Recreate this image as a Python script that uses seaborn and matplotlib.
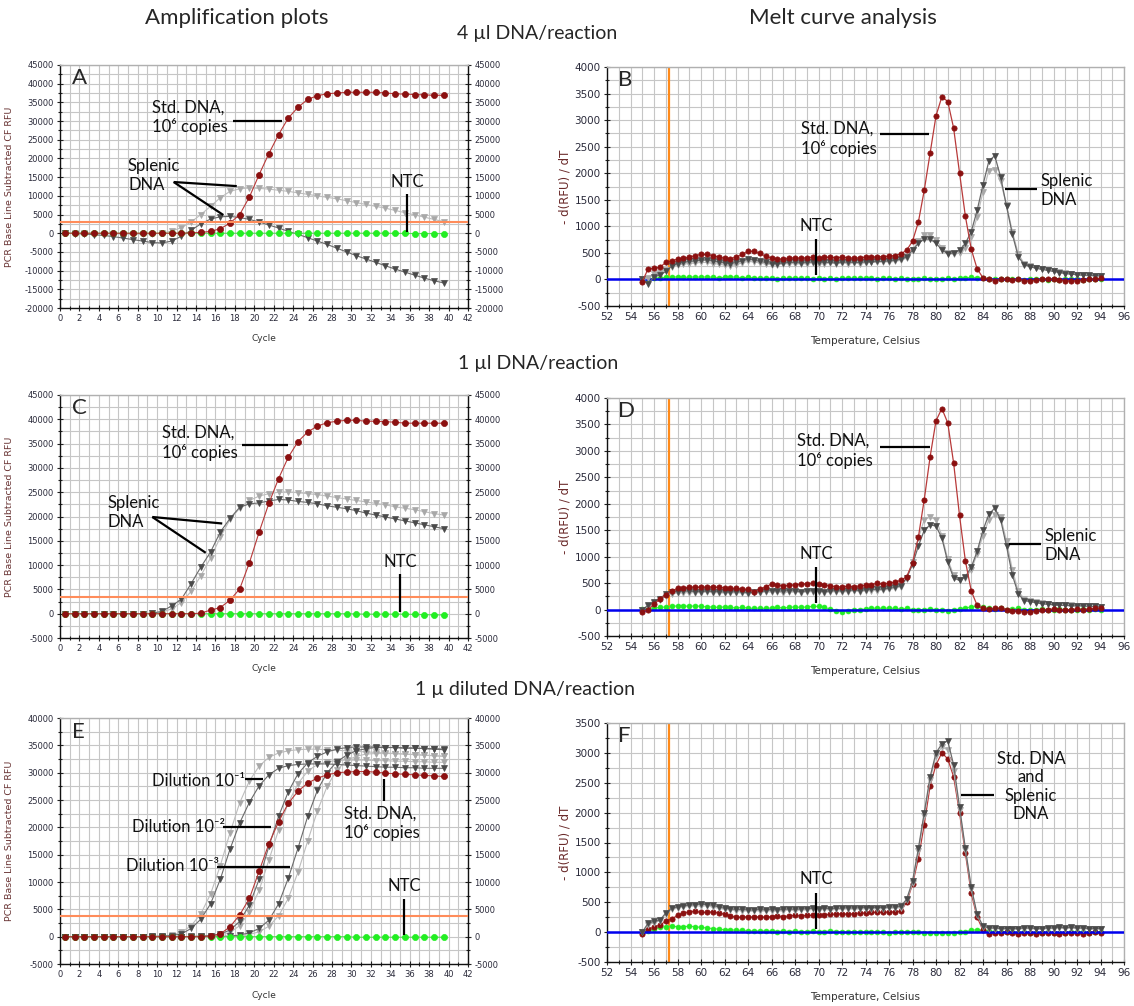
import numpy as np
import pandas as pd
import matplotlib
matplotlib.use("Agg")
import matplotlib.pyplot as plt
import matplotlib.ticker as tck
import seaborn as sns

# ---- amplification data (RFU per cycle) ----
cycle = np.arange(1, 41)

a_std = [0, 0, 0, 0, 0, 0, 0, 0, 0, 0,
         0, 0, 0, 100, 200, 500, 1200, 2700, 5000, 9700,
         15700, 21300, 26400, 30800, 33700, 35800, 36800, 37300, 37500, 37700,
         37700, 37700, 37700, 37500, 37300, 37200, 37100, 37000, 36900, 36900]
a_spl1 = [0, -100, -200, -400, -600, -900, -1300, -1700, -2100, -2500,
          -2600, -2100, -800, 800, 2500, 3800, 4400, 4500, 4200, 3700,
          3000, 2200, 1400, 500, -300, -1200, -2100, -3000, -4000, -5000,
          -6000, -6900, -7800, -8700, -9600, -10400, -11200, -12000, -12700, -13300]
a_spl2 = [0, 0, -50, -100, -150, -200, -250, -300, -300, -200,
          0, 600, 1500, 3000, 5000, 7200, 9500, 11200, 11900, 12100,
          12000, 11800, 11500, 11200, 10800, 10400, 10000, 9600, 9200, 8700,
          8200, 7700, 7200, 6700, 6100, 5500, 4900, 4300, 3700, 3100]
a_ntc = [0] * 34 + [-50, -50, -100, -100, -100, -100]

c_std = [0, 0, 0, 0, 0, 0, 0, 0, 0, 0,
         0, 0, 0, 0, 100, 750, 1250, 2800, 5100, 10500,
         16800, 22700, 27800, 32200, 35400, 37400, 38600, 39300, 39600, 39800,
         39800, 39600, 39600, 39500, 39400, 39200, 39200, 39200, 39200, 39200]
c_spl1 = [0, 0, 0, 0, 0, 0, 0, 0, 0, 100,
          500, 1600, 3000, 6200, 9600, 12700, 16800, 19600, 21900, 22600,
          22800, 23200, 23500, 23400, 23100, 22900, 22600, 22200, 21900, 21600,
          21200, 20700, 20300, 19900, 19500, 19100, 18700, 18300, 17900, 17500]
c_spl2 = [0, 0, 0, 0, 0, 0, 0, 0, 0, 50,
          300, 1000, 2300, 4600, 7800, 11500, 15700, 19400, 21700, 23300,
          24200, 24700, 25000, 25100, 24900, 24700, 24500, 24200, 23900, 23600,
          23300, 23000, 22700, 22400, 22000, 21700, 21400, 21000, 20600, 20300]
c_ntc = [0] * 30 + [-50, -100, -100, -100, -100, -100, -150, -200, -250, -250]

e_std = [0, 0, 0, 0, 0, 0, 0, 0, 0, 0,
         0, 0, 0, 0, 0, 100, 500, 1800, 4000, 7000,
         12000, 17000, 21000, 24400, 26600, 28100, 29000, 29600, 30000, 30100,
         30200, 30200, 30100, 29900, 29800, 29700, 29600, 29500, 29400, 29300]
e_d1a = [0, 0, 0, 0, 0, 0, 0, 0, 0, 50,
         100, 200, 500, 1500, 3200, 6000, 10500, 16000, 20800, 24600,
         27600, 29600, 30800, 31300, 31500, 31600, 31600, 31600, 31500, 31400,
         31300, 31200, 31100, 31000, 31000, 30900, 30900, 30800, 30800, 30800]
e_d1b = [0, 0, 0, 0, 0, 0, 0, 0, 0, 50,
         100, 300, 800, 2000, 4200, 7800, 13000, 19000, 24500, 28500,
         31200, 32800, 33600, 34000, 34200, 34300, 34300, 34200, 34100, 34000,
         33900, 33800, 33700, 33600, 33500, 33400, 33300, 33200, 33100, 33000]
e_d2a = [0, 0, 0, 0, 0, 0, 0, 0, 0, 0,
         0, 0, 0, 50, 100, 200, 500, 1200, 2800, 5800,
         10500, 16500, 22000, 26500, 29800, 31800, 33000, 33800, 34300, 34600,
         34700, 34700, 34700, 34600, 34600, 34500, 34500, 34400, 34300, 34200]
e_d2b = [0, 0, 0, 0, 0, 0, 0, 0, 0, 0,
         0, 0, 0, 0, 50, 100, 300, 800, 2000, 4500,
         8500, 14000, 19500, 24500, 28000, 30300, 31500, 32000, 32200, 32300,
         32300, 32300, 32200, 32200, 32100, 32100, 32000, 32000, 31900, 31900]
e_d3a = [0, 0, 0, 0, 0, 0, 0, 0, 0, 0,
         0, 0, 0, 0, 0, 0, 50, 100, 300, 700,
         1500, 3000, 6000, 10700, 16200, 22000, 26800, 30000, 32000, 33200,
         34000, 34400, 34600, 34600, 34600, 34500, 34500, 34400, 34400, 34300]
e_d3b = [0, 0, 0, 0, 0, 0, 0, 0, 0, 0,
         0, 0, 0, 0, 0, 0, 0, 50, 100, 400,
         900, 1900, 3800, 7000, 11800, 17500, 23000, 27500, 30500, 32200,
         33000, 33400, 33500, 33500, 33500, 33400, 33300, 33200, 33100, 33000]
e_ntc = [0] * 30 + [-100] * 10

thresholds = {"A": 3100, "C": 3400, "E": 3800}

# ---- melt curve data (-dRFU/dT), 55.0 to 94.0 C in 0.5 steps ----
temp = np.arange(55.0, 94.01, 0.5)

b_std = [-40, 200, 210, 230, 320, 350, 380, 400, 420, 450,
         470, 470, 450, 420, 400, 390, 420, 470, 530, 530,
         490, 440, 400, 380, 390, 400, 410, 400, 410, 420,
         410, 420, 420, 410, 420, 410, 400, 410, 420, 420,
         430, 430, 440, 450, 480, 550, 720, 1080, 1680, 2380,
         3080, 3440, 3350, 2850, 2010, 1190, 570, 200, 30, 10,
         -20, 0, 10, -10, 0, -20, -30, -10, 0, 10,
         0, -10, -20, -30, -20, -10, 0, 10, 20]
b_spl1 = [0, -80, 50, 80, 150, 250, 300, 320, 340, 350,
          360, 370, 350, 330, 310, 300, 320, 350, 380, 370,
          340, 320, 300, 300, 310, 320, 320, 310, 320, 330,
          330, 320, 320, 310, 320, 330, 320, 320, 330, 330,
          340, 340, 350, 360, 380, 420, 550, 680, 760, 760,
          680, 560, 480, 500, 550, 680, 900, 1300, 1780, 2230,
          2330, 1930, 1380, 850, 430, 280, 240, 210, 190, 170,
          150, 130, 110, 100, 90, 80, 80, 70, 70]
b_spl2 = [0, 20, 100, 120, 180, 240, 270, 290, 300, 310,
          320, 320, 300, 290, 270, 260, 280, 310, 340, 330,
          310, 290, 280, 280, 290, 300, 300, 290, 300, 310,
          300, 300, 310, 300, 310, 300, 310, 300, 310, 320,
          320, 330, 330, 340, 360, 400, 560, 720, 830, 840,
          740, 600, 500, 470, 500, 600, 800, 1180, 1650, 2050,
          2070, 1850, 1400, 900, 480, 300, 250, 220, 200, 180,
          160, 140, 120, 100, 90, 80, 70, 70, 60]
b_ntc = [0, 10, 20, 30, 40, 40, 50, 40, 40, 50,
         40, 50, 40, 30, 40, 50, 40, 30, 40, 30,
         20, 30, 20, 10, 20, 20, 30, 20, 20, 10,
         20, 10, 20, 10, 20, 30, 20, 20, 30, 20,
         10, 20, 20, 10, 20, 10, 0, 10, 20, 10,
         0, 10, 20, 10, 20, 30, 40, 30, 20, 10,
         0, 10, 0, 10, 0, -10, 0, 10, 0, -10,
         0, -10, 0, 10, 0, -10, 0, 10, 0]

d_std = [-40, 0, 100, 200, 280, 350, 400, 410, 420, 430,
         420, 430, 430, 420, 410, 400, 400, 390, 380, 340,
         380, 430, 480, 470, 450, 460, 470, 480, 490, 500,
         490, 470, 450, 430, 430, 440, 430, 450, 460, 470,
         500, 480, 500, 520, 550, 620, 880, 1370, 2080, 2890,
         3570, 3800, 3530, 2770, 1780, 920, 350, 80, 20, 10,
         20, 30, 0, -20, -30, -40, -50, -20, -10, 0,
         10, 0, -10, 0, 10, 0, 10, 20, 30]
d_spl1 = [0, 80, 150, 200, 300, 330, 340, 350, 350, 340,
          340, 350, 340, 340, 330, 330, 340, 330, 320, 330,
          340, 350, 360, 350, 350, 360, 350, 340, 350, 360,
          350, 340, 350, 360, 350, 360, 370, 360, 370, 380,
          380, 390, 400, 420, 450, 600, 850, 1200, 1500, 1600,
          1580, 1350, 900, 600, 550, 620, 800, 1100, 1500, 1800,
          1920, 1700, 1200, 650, 300, 170, 150, 130, 110, 100,
          90, 80, 80, 70, 70, 70, 60, 60, 50]
d_spl2 = [0, 60, 120, 180, 260, 300, 310, 320, 320, 320,
          320, 330, 320, 320, 310, 310, 320, 310, 300, 310,
          320, 330, 330, 330, 320, 330, 330, 320, 330, 340,
          330, 320, 330, 340, 330, 340, 350, 340, 350, 360,
          360, 370, 380, 400, 430, 580, 900, 1350, 1700, 1750,
          1700, 1400, 950, 650, 560, 600, 750, 1050, 1400, 1700,
          1780, 1750, 1300, 750, 350, 200, 170, 140, 120, 100,
          90, 90, 80, 80, 70, 70, 60, 60, 50]
d_ntc = [10, 20, 30, 40, 50, 60, 70, 70, 60, 70,
         60, 50, 50, 40, 50, 40, 30, 40, 30, 20,
         30, 20, 30, 40, 30, 40, 50, 40, 50, 60,
         60, 40, 10, -20, -40, -20, -10, 0, 10, 20,
         30, 20, 30, 20, 10, 20, 0, -10, 0, 10,
         0, -10, -20, -10, 10, 30, 50, 60, 40, 20,
         10, 20, 0, 10, 20, 0, -10, 0, 10, 0,
         0, 10, 0, -10, 0, 10, 0, 10, 0]

f_std = [-30, 50, 80, 120, 180, 220, 280, 320, 340, 350,
         330, 330, 340, 320, 300, 270, 250, 250, 260, 250,
         260, 250, 260, 270, 260, 270, 280, 270, 280, 280,
         280, 290, 300, 300, 310, 300, 310, 320, 320, 330,
         330, 330, 340, 340, 350, 500, 800, 1230, 1800, 2450,
         2800, 3000, 2900, 2600, 2000, 1320, 650, 250, 30, -30,
         -20, -10, 0, -20, -30, -10, -20, -30, -20, -10,
         -20, -30, -20, -10, -20, -30, -10, 0, -20]
f_spl1 = [0, 150, 180, 200, 320, 400, 420, 440, 450, 460,
          470, 460, 450, 420, 400, 390, 380, 380, 370, 370,
          380, 370, 380, 370, 380, 390, 380, 390, 390, 400,
          390, 400, 390, 400, 400, 410, 400, 410, 410, 410,
          410, 410, 420, 420, 430, 550, 850, 1400, 2000, 2600,
          3000, 3150, 3200, 2800, 2100, 1400, 750, 300, 100, 70,
          70, 60, 60, 60, 60, 70, 70, 60, 60, 70,
          70, 80, 70, 80, 70, 70, 60, 60, 60]
f_spl2 = [0, 120, 160, 190, 300, 380, 400, 420, 430, 440,
          440, 440, 420, 400, 380, 370, 360, 360, 350, 350,
          360, 350, 360, 350, 360, 370, 360, 370, 370, 380,
          370, 380, 370, 380, 380, 390, 380, 390, 390, 390,
          390, 390, 400, 400, 410, 530, 820, 1350, 1950, 2550,
          2950, 3100, 3050, 2700, 2050, 1380, 720, 280, 90, 60,
          60, 50, 50, 50, 50, 60, 60, 50, 50, 60,
          60, 70, 60, 70, 60, 60, 50, 50, 50]
f_ntc = [0, 20, 50, 80, 90, 100, 90, 90, 100, 90,
         80, 70, 60, 50, 40, 40, 30, 30, 20, 20,
         20, 20, 20, 10, 20, 10, 20, 10, 10, 20,
         10, 10, 20, 10, 10, 0, 10, 0, 0, 10,
         0, 0, -10, 0, 10, 0, 10, 0, -10, -10,
         -20, -10, -10, -20, 0, 10, 30, 40, 30, 20,
         10, 0, 10, 0, -10, 0, -10, -20, -10, 0,
         -10, -20, -10, 0, 10, 0, -10, 0, 0]

melt_marker_temp = 57.3

# ---- styles ----
RED, RED_LINE = "#8b1010", "#b83a3a"
DARK, DARK_LINE = "#4a4a4a", "#6a6a6a"
LIGHT, LIGHT_LINE = "#a8a8a8", "#bdbdbd"
GREEN, GREEN_LINE = "#22ee22", "#55dd55"
TXT = ["Lato", "DejaVu Sans"]

sns.set_theme(style="white")
plt.rcParams["font.family"] = ["Lato", "DejaVu Sans"]

fig = plt.figure(figsize=(11.34, 10.06), dpi=100)

def px(l, t, r, b):
    return [l / 1134, 1 - b / 1006, (r - l) / 1134, (b - t) / 1006]

axA = fig.add_axes(px(60, 65, 468, 308))
axB = fig.add_axes(px(607, 67, 1124, 306))
axC = fig.add_axes(px(60, 395, 468, 638))
axD = fig.add_axes(px(607, 398, 1124, 636))
axE = fig.add_axes(px(60, 718, 468, 964))
axF = fig.add_axes(px(607, 723, 1124, 962))


def series(ax, x, y, face, line, marker, ms, z, lw=0.8):
    sns.lineplot(x=x, y=y, ax=ax, color=line, lw=lw, marker=marker,
                 markersize=ms, markerfacecolor=face, markeredgecolor=face,
                 markeredgewidth=0.5, zorder=z, legend=False)


def frame(ax, right_dark):
    ax.grid(which="both", color="#c6c6c6", lw=0.8)
    ax.set_axisbelow(True)
    for side in ["left", "bottom"]:
        ax.spines[side].set_color("#111111")
    ax.spines["top"].set_color("#b0b0b0")
    ax.spines["right"].set_color("#111111" if right_dark else "#b0b0b0")
    for s in ax.spines.values():
        s.set_linewidth(1.0)


def style_amp(ax, ymin, ymax):
    ax.set_xlim(0, 42)
    ax.set_ylim(ymin, ymax)
    ax.xaxis.set_major_locator(tck.MultipleLocator(2))
    ax.xaxis.set_minor_locator(tck.MultipleLocator(1))
    ax.yaxis.set_major_locator(tck.MultipleLocator(5000))
    ax.yaxis.set_minor_locator(tck.MultipleLocator(2500))
    ax.yaxis.set_major_formatter(tck.FormatStrFormatter("%d"))
    frame(ax, True)
    ax.tick_params(which="both", direction="inout", left=True, right=True,
                   bottom=True, labelright=True, color="#222222", width=0.8)
    ax.tick_params(which="major", length=5, labelsize=6, labelcolor="#2a2a3a",
                   labelfontfamily="DejaVu Sans", pad=2)
    ax.tick_params(which="minor", length=3)
    ax.set_xlabel("Cycle", fontsize=6.5, family="DejaVu Sans", color="#333333")
    ax.xaxis.set_label_coords(0.5, -0.108)
    ax.set_ylabel("PCR Base Line Subtracted CF RFU", fontsize=6.8,
                  family="DejaVu Sans", color="#6a3535")
    ax.yaxis.set_label_coords(-0.113, 0.5)


def style_melt(ax, ymax):
    ax.set_xlim(52, 96)
    ax.set_ylim(-500, ymax)
    ax.xaxis.set_major_locator(tck.MultipleLocator(2))
    ax.xaxis.set_minor_locator(tck.MultipleLocator(1))
    ax.yaxis.set_major_locator(tck.MultipleLocator(500))
    ax.yaxis.set_minor_locator(tck.MultipleLocator(250))
    ax.yaxis.set_major_formatter(tck.FormatStrFormatter("%d"))
    frame(ax, False)
    ax.tick_params(which="both", direction="inout", left=True, bottom=True,
                   color="#222222", width=0.8)
    ax.tick_params(which="major", length=5, labelsize=7.5, labelcolor="#2a2a3a",
                   labelfontfamily="DejaVu Sans", pad=2)
    ax.tick_params(which="minor", length=3)
    ax.set_xlabel("Temperature, Celsius", fontsize=7.5, family="DejaVu Sans",
                  color="#333333")
    ax.xaxis.set_label_coords(0.5, -0.125)
    ax.set_ylabel("- d(RFU) / dT", fontsize=8.5, family="DejaVu Sans",
                  color="#6a2a2a")
    ax.yaxis.set_label_coords(-0.068, 0.5)


def note(ax, x, y, s, ha="left", size=12):
    ax.text(x, y, s, ha=ha, va="center", fontsize=size, family=TXT,
            color="#111111", zorder=8)


def stroke(ax, xs, ys):
    ax.plot(xs, ys, color="black", lw=1.6, zorder=7, solid_capstyle="butt")


def amp_panel(ax, letter, ymin, ymax, grays, std, ntc, thr):
    style_amp(ax, ymin, ymax)
    xc = cycle - 0.5
    for y, face, line in grays:
        series(ax, xc, y, face, line, "v", 4.4, 3)
    series(ax, xc, ntc, GREEN, GREEN_LINE, "o", 4.4, 4)
    series(ax, xc, std, RED, RED_LINE, "o", 4.4, 5)
    ax.axhline(thr, color="#ff8c5a", lw=1.5, zorder=6)
    ax.text(1.2, ymax - (ymax - ymin) * 0.055, letter, fontsize=16,
            family=TXT, ha="left", va="center", zorder=8)


def melt_panel(ax, letter, ymax, std, spl1, spl2, ntc, std_on_top=True):
    style_melt(ax, ymax)
    zs = 6 if std_on_top else 3
    series(ax, temp, spl2, LIGHT, LIGHT_LINE, "v", 3.8, 4, lw=0.9)
    series(ax, temp, spl1, DARK, DARK_LINE, "v", 3.8, 5, lw=0.9)
    series(ax, temp, ntc, GREEN, GREEN_LINE, "o", 3.5, 3)
    series(ax, temp, std, RED, RED_LINE, "o", 3.8, zs, lw=0.9)
    ax.axhline(0, color="#0000ee", lw=1.8, zorder=3.5)
    ax.axvline(melt_marker_temp, color="#ff8a1a", lw=1.6, zorder=2.5)
    ax.text(52.9, ymax - (ymax + 500) * 0.055, letter, fontsize=16,
            family=TXT, ha="left", va="center", zorder=8)


# ---- Panel A ----
amp_panel(axA, "A", -20000, 45000,
          [(a_spl2, LIGHT, LIGHT_LINE), (a_spl1, DARK, DARK_LINE)],
          a_std, a_ntc, thresholds["A"])
note(axA, 9.5, 31000, "Std. DNA,\n10\u2076 copies")
stroke(axA, [17.8, 22.85], [30000, 30000])
note(axA, 7.0, 15500, "Splenic\nDNA")
stroke(axA, [11.7, 18.2], [13700, 12600])
stroke(axA, [11.7, 16.8], [13700, 4900])
note(axA, 35.7, 13700, "NTC", ha="center")
stroke(axA, [35.7, 35.7], [10500, 300])

# ---- Panel B ----
melt_panel(axB, "B", 4000, b_std, b_spl1, b_spl2, b_ntc)
note(axB, 68.5, 2650, "Std. DNA,\n10\u2076 copies")
stroke(axB, [75.2, 79.4], [2737, 2737])
note(axB, 88.9, 1680, "Splenic\nDNA")
stroke(axB, [85.9, 88.6], [1700, 1700])
note(axB, 69.8, 1000, "NTC", ha="center")
stroke(axB, [69.8, 69.8], [754, 82])

# ---- Panel C ----
amp_panel(axC, "C", -5000, 45000,
          [(c_spl2, LIGHT, LIGHT_LINE), (c_spl1, DARK, DARK_LINE)],
          c_std, c_ntc, thresholds["C"])
note(axC, 10.5, 35200, "Std. DNA,\n10\u2076 copies")
stroke(axC, [18.7, 23.5], [34800, 34800])
note(axC, 4.9, 20850, "Splenic\nDNA")
stroke(axC, [9.5, 16.7], [19900, 18560])
stroke(axC, [9.5, 15.0], [19900, 12535])
note(axC, 35.0, 10620, "NTC", ha="center")
stroke(axC, [35.0, 35.0], [8080, 400])

# ---- Panel D ----
melt_panel(axD, "D", 4000, d_std, d_spl1, d_spl2, d_ntc)
note(axD, 68.2, 3000, "Std. DNA,\n10\u2076 copies")
stroke(axD, [75.25, 79.5], [3067, 3067])
note(axD, 89.2, 1210, "Splenic\nDNA")
stroke(axD, [86.2, 88.9], [1232, 1232])
note(axD, 69.8, 1056, "NTC", ha="center")
stroke(axD, [69.8, 69.8], [804, 126])

# ---- Panel E ----
amp_panel(axE, "E", -5000, 40000,
          [(e_d1b, LIGHT, LIGHT_LINE), (e_d2b, LIGHT, LIGHT_LINE),
           (e_d3b, LIGHT, LIGHT_LINE), (e_d1a, DARK, DARK_LINE),
           (e_d2a, DARK, DARK_LINE), (e_d3a, DARK, DARK_LINE)],
          e_std, e_ntc, thresholds["E"])
note(axE, 9.45, 28560, "Dilution 10\u207b\u00b9")
stroke(axE, [19.06, 20.9], [28900, 28900])
note(axE, 7.42, 20000, "Dilution 10\u207b\u00b2")
stroke(axE, [16.77, 21.76], [20130, 20130])
note(axE, 6.8, 12970, "Dilution 10\u207b\u00b3")
stroke(axE, [16.2, 23.7], [12670, 12670])
note(axE, 29.2, 20780, "Std. DNA,\n10\u2076 copies")
stroke(axE, [33.4, 33.4], [28900, 24740])
note(axE, 35.4, 9300, "NTC", ha="center")
stroke(axE, [35.4, 35.4], [6850, 250])

# ---- Panel F ----
melt_panel(axF, "F", 3500, f_std, f_spl1, f_spl2, f_ntc, std_on_top=False)
note(axF, 88.1, 2437, "Std. DNA\nand\nSplenic\nDNA", ha="center")
stroke(axF, [82.1, 84.9], [2297, 2297])
note(axF, 69.8, 884, "NTC", ha="center")
stroke(axF, [69.8, 69.8], [660, 45])

# ---- headings ----
fig.text(237 / 1134, 1 - 18 / 1006, "Amplification plots", ha="center",
         va="center", fontsize=16, family=TXT)
fig.text(843 / 1134, 1 - 18 / 1006, "Melt curve analysis", ha="center",
         va="center", fontsize=16, family=TXT)
fig.text(537 / 1134, 1 - 34 / 1006, "4 \u00b5l DNA/reaction", ha="center",
         va="center", fontsize=14, family=TXT)
fig.text(538 / 1134, 1 - 363 / 1006, "1 \u00b5l DNA/reaction", ha="center",
         va="center", fontsize=14, family=TXT)
fig.text(525 / 1134, 1 - 690 / 1006, "1 \u00b5 diluted DNA/reaction", ha="center",
         va="center", fontsize=14, family=TXT)

fig.savefig("out.png", dpi=100, facecolor="white")
